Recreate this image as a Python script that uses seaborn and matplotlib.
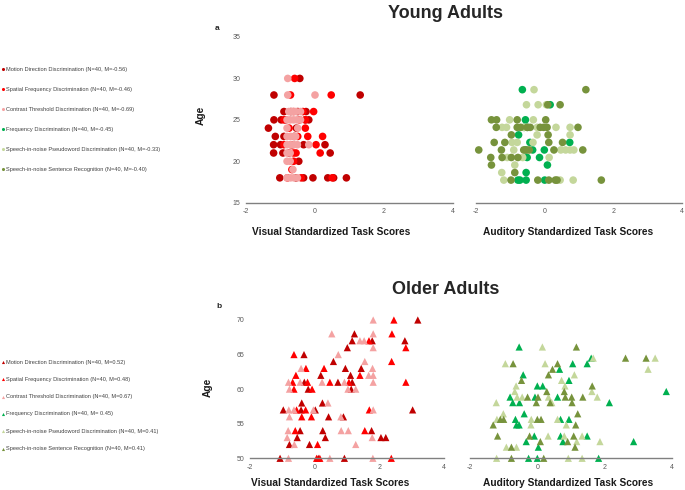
import matplotlib
matplotlib.use("Agg")
import matplotlib.pyplot as plt
import seaborn as sns
import pandas as pd

# ---- data ----
tasks_visual = ["Motion Direction Discrimination", "Spatial Frequency Discrimination",
                "Contrast Threshold Discrimination"]
tasks_auditory = ["Frequency Discrimination", "Speech-in-noise Pseudoword Discrimination",
                  "Speech-in-noise Sentence Recognition"]
young_means = ["-0.56", "-0.46", "-0.69", "-0.45", "-0.33", "-0.40"]
older_means = ["0.52", "0.48", "0.67", " 0.45", "0.41", "0.41"]

# young adults, visual
young_motion_x = [-0.44, -1.19, 1.31, -0.90, -0.26, -1.19, -0.98, -0.28, -0.18, -1.35, -0.54, -1.15,
                  -1.20, -1.00, -0.33, 0.29, -1.20, -0.93, 0.44, -0.47, -1.02, -0.33, -0.06, 0.37,
                  0.54, 0.91, -0.60, -0.70, -0.75, -0.55, -0.65, -0.85, -0.50, -0.90]
young_motion_age = [30, 28, 28, 26, 26, 25, 25, 25, 25, 24, 24, 23, 22, 22, 22, 22, 21, 21, 21, 20,
                    18, 18, 18, 18, 18, 18, 23, 26, 21, 18, 22, 25, 26, 23]
young_spatial_x = [-0.59, -0.71, 0.47, -0.62, -0.04, -0.35, -0.90, -0.28, -0.28, -0.21, 0.22, -0.90,
                   0.03, -0.70, -0.62, -0.55, 0.15, -0.62, -0.67, -0.40, 0.50, -0.75, -0.50, -0.45, -0.80]
young_spatial_age = [30, 28, 28, 26, 26, 26, 25, 25, 24, 23, 23, 22, 22, 22, 21, 21, 21, 20, 19, 18,
                     18, 24, 23, 25, 18]
young_contrast_x = [-0.79, -0.79, 0.00, -0.76, -0.66, -0.56, -0.42, -0.81, -0.72, -0.62, -0.52, -0.42,
                    -0.81, -0.50, -0.81, -0.71, -0.61, -0.81, -0.71, -0.61, -0.51, -0.18, -0.81, -0.72,
                    -0.81, -0.72, -0.64, -0.81, -0.71, -0.61, -0.51, -0.56]
young_contrast_age = [30, 28, 28, 26, 26, 26, 26, 25, 25, 25, 25, 25, 24, 24, 23, 23, 23, 22, 22, 22,
                      22, 22, 21, 21, 20, 20, 19, 18, 18, 18, 18, 23]

# young adults, auditory
young_freq_x = [-0.65, 0.16, -0.56, -0.60, -0.76, -0.43, 0.73, -0.35, -0.01, -0.51, -0.15, 0.08,
                -0.54, -0.78, -0.72, -0.54, 0.00, -0.50, -0.56]
young_freq_age = [30, 28, 26, 25, 24, 23, 23, 22, 22, 21, 21, 20, 19, 18, 18, 18, 18, 25, 22]
young_pseudo_x = [-0.31, -0.53, -0.19, 0.05, -1.02, -0.33, -1.24, -1.11, -0.22, 0.33, 0.74, -0.22,
                  0.74, -0.95, -0.80, -0.34, 0.47, 0.61, 0.74, 0.85, -1.09, -0.64, 0.13, -0.87,
                  -1.25, -1.19, 0.45, 0.83, -0.90, -0.60]
young_pseudo_age = [30, 28, 28, 28, 26, 26, 25, 25, 25, 25, 25, 24, 24, 23, 23, 23, 22, 22, 22, 22,
                    21, 21, 21, 20, 19, 18, 18, 18, 22, 25]
young_sentence_x = [1.20, 0.09, 0.45, -1.55, -1.40, -0.80, 0.03, -1.41, -0.80, -0.70, -0.51, -0.42,
                    -0.13, -0.03, 0.07, 0.97, -0.97, 0.10, -1.47, -1.16, 0.12, 0.52, -1.92, -1.26,
                    -0.61, -0.53, -0.45, 0.27, 1.11, -1.57, -1.24, -0.97, -0.78, -1.55, -0.87, -0.98,
                    -0.20, 0.12, 0.31, 0.36, 1.65]
young_sentence_age = [30, 28, 28, 26, 26, 26, 26, 25, 25, 25, 25, 25, 25, 25, 25, 25, 24, 24, 23, 23,
                      23, 23, 22, 22, 22, 22, 22, 22, 22, 21, 21, 21, 21, 20, 19, 18, 18, 18, 18, 18, 18]

# older adults, visual
older_motion_x = [3.19, 1.23, 1.16, 1.78, 2.79, 1.01, -0.33, 0.58, 0.95, 1.44, 0.19, 1.11, -0.32, 0.72,
                  1.16, -0.20, 1.13, -0.40, 0.24, -0.97, -0.42, 0.02, 3.03, 0.43, 0.89, -0.45, 0.25,
                  1.76, -0.54, 0.33, 2.05, 2.20, -0.78, -0.16, -1.07, 0.11, 0.92]
older_motion_age = [70, 68, 67, 67, 67, 66, 65, 64, 63, 63, 62, 62, 61, 61, 61, 60, 60, 58, 58, 57,
                    57, 57, 57, 56, 56, 54, 54, 54, 53, 53, 53, 53, 52, 52, 50, 50, 50]
older_spatial_x = [2.45, 2.39, 1.68, 2.82, -0.64, 2.38, -0.27, 0.29, -0.58, 1.40, -0.68, -0.22, 0.47,
                   1.06, 2.82, -0.64, -0.08, -0.56, -0.28, 1.69, -0.40, -0.10, -0.60, 1.55, 0.09,
                   0.06, 0.16, 2.37]
older_spatial_age = [70, 68, 67, 66, 65, 64, 63, 63, 62, 62, 61, 61, 61, 61, 61, 60, 60, 57, 57, 57,
                     56, 56, 54, 54, 52, 50, 50, 50]
older_contrast_x = [1.81, 0.53, 1.81, 1.40, 1.53, 1.81, 0.73, 1.55, -0.42, 1.79, 1.67, 1.81, -0.81,
                    -0.45, 0.23, 0.92, 1.81, -0.78, 1.03, 1.27, 0.41, -0.80, -0.64, -0.04, 1.81, -0.78,
                    0.81, -0.82, 0.82, 1.04, -0.85, 1.78, -0.63, 1.27, -0.81, 0.47, 1.80]
older_contrast_age = [70, 68, 68, 67, 67, 66, 65, 64, 63, 63, 62, 62, 61, 61, 61, 61, 61, 60, 60, 60,
                      58, 57, 57, 57, 57, 56, 56, 54, 54, 54, 53, 53, 52, 52, 50, 50, 50]

# older adults, auditory
older_freq_x = [-0.54, 1.60, 1.05, 1.48, 0.66, -0.42, 0.94, 0.00, 0.16, 3.83, -0.81, -0.07, 0.60, -0.73,
                -0.53, 2.14, -0.39, -0.65, 0.69, 0.94, -0.62, -0.54, -0.09, 0.69, 1.48, -0.33, 0.76,
                2.86, 0.03, -0.26, 0.00, 1.82]
older_freq_age = [70, 68, 67, 67, 66, 65, 64, 63, 63, 62, 61, 61, 61, 60, 60, 60, 58, 57, 57, 57,
                  56, 56, 54, 54, 54, 53, 53, 53, 52, 50, 50, 50]
older_pseudo_x = [0.15, 1.66, 3.50, -0.95, 0.23, 3.29, 1.10, 0.72, -0.63, 0.82, -0.67, 1.62, -0.60,
                  -0.45, 0.33, 1.78, -1.22, 0.43, -1.01, -1.20, -0.18, 0.60, -0.19, 0.86, 0.32, 0.80,
                  1.33, 1.17, 1.86, -0.92, -0.62, -1.21, 0.92, 1.33]
older_pseudo_age = [70, 68, 68, 67, 67, 66, 65, 64, 63, 63, 62, 62, 61, 61, 61, 61, 60, 60, 58, 57,
                    57, 57, 56, 56, 54, 54, 54, 53, 53, 52, 52, 50, 50, 50]
older_sentence_x = [1.16, 2.62, 3.23, -0.72, 0.60, 0.45, 0.33, -0.47, 1.63, 0.28, 0.80, -0.29, 0.02,
                    0.83, 1.02, 1.35, -0.03, 0.38, 1.03, 1.20, -1.10, -1.00, 0.00, 0.11, -1.31, 1.14,
                    -1.18, -0.23, 1.08, 0.09, 0.90, -0.77, 1.12, -0.77, 0.19]
older_sentence_age = [70, 68, 68, 67, 67, 66, 65, 64, 63, 62, 62, 61, 61, 61, 61, 61, 60, 60, 60, 58,
                      57, 57, 57, 57, 56, 56, 54, 54, 54, 53, 53, 52, 52, 50, 50]

colors_visual = ["#C00000", "#FF0000", "#F4A2A2"]
colors_auditory = ["#00B050", "#C4D79B", "#77933C"]


def make_df(tasks, xs, ages):
    rows = []
    for t, x, a in zip(tasks, xs, ages):
        rows.append(pd.DataFrame({"score": x, "age": a, "task": t}))
    return pd.concat(rows, ignore_index=True)


young_vis = make_df(tasks_visual, [young_motion_x, young_spatial_x, young_contrast_x],
                    [young_motion_age, young_spatial_age, young_contrast_age])
young_aud = make_df(tasks_auditory, [young_freq_x, young_pseudo_x, young_sentence_x],
                    [young_freq_age, young_pseudo_age, young_sentence_age])
older_vis = make_df(tasks_visual, [older_motion_x, older_spatial_x, older_contrast_x],
                    [older_motion_age, older_spatial_age, older_contrast_age])
older_aud = make_df(tasks_auditory, [older_freq_x, older_pseudo_x, older_sentence_x],
                    [older_freq_age, older_pseudo_age, older_sentence_age])

sns.set_style("white")
plt.rcParams["font.family"] = ["Liberation Sans", "DejaVu Sans"]
plt.rcParams["axes.unicode_minus"] = False

W, H = 685, 490
fig = plt.figure(figsize=(W / 100, H / 100), dpi=100)


def px_axes(left, right, bottom, top):
    return fig.add_axes([left / W, 1 - bottom / H, (right - left) / W, (bottom - top) / H])


def panel(ax, df, tasks, colors, marker, size, ylim, yticks, show_y):
    sns.scatterplot(data=df, x="score", y="age", hue="task", hue_order=tasks, palette=colors,
                    marker=marker, s=size, linewidth=0, legend=False, ax=ax, clip_on=False, alpha=1)
    ax.set_xlim(-2, 4)
    ax.set_ylim(*ylim)
    ax.set_xticks([-2, 0, 2, 4])
    ax.set_yticks(yticks if show_y else [])
    ax.tick_params(length=0, labelsize=5, labelcolor="#595959", pad=4)
    ax.set_xlabel("")
    ax.set_ylabel("")
    for s in ["top", "right", "left"]:
        ax.spines[s].set_visible(False)
    ax.spines["bottom"].set_color("#808080")
    ax.spines["bottom"].set_linewidth(1.0)
    ax.patch.set_alpha(0)


ax1 = px_axes(246, 453, 202.7, 37)
panel(ax1, young_vis, tasks_visual, colors_visual, "o", 30, (15, 35), [15, 20, 25, 30, 35], True)
ax2 = px_axes(476, 682, 202.7, 52)
panel(ax2, young_aud, tasks_auditory, colors_auditory, "o", 30, (15, 35), [], False)
ax3 = px_axes(250, 444, 458.3, 320)
panel(ax3, older_vis, tasks_visual, colors_visual, "^", 27, (50, 70), [50, 55, 60, 65, 70], True)
ax4 = px_axes(470, 672, 458.3, 347)
panel(ax4, older_aud, tasks_auditory, colors_auditory, "^", 27, (50, 70), [], False)

# overlay for titles, labels and the legends (pixel coordinates)
ov = fig.add_axes([0, 0, 1, 1])
ov.set_xlim(0, W)
ov.set_ylim(H, 0)
ov.axis("off")

ov.text(446, 13, "Young Adults", fontsize=13, fontweight="bold", ha="center", va="center")
ov.text(446, 289, "Older Adults", fontsize=13, fontweight="bold", ha="center", va="center")
ov.text(217, 29, "a", fontsize=6, fontweight="bold", ha="center", va="center", color="#262626")
ov.text(219, 306, "b", fontsize=6, fontweight="bold", ha="center", va="center", color="#262626")
for xl, yl, lab in [(331, 232, "Visual Standardized Task Scores"),
                    (568, 232, "Auditory Standardized Task Scores"),
                    (330, 483, "Visual Standardized Task Scores"),
                    (568, 483, "Auditory Standardized Task Scores")]:
    ov.text(xl, yl, lab, fontsize=7.3, fontweight="bold", ha="center", va="center", color="#1a1a1a")
ov.text(201, 115, "Age", fontsize=7.3, fontweight="bold", ha="center", va="center", rotation=90,
        color="#1a1a1a")
ov.text(208, 387, "Age", fontsize=7.3, fontweight="bold", ha="center", va="center", rotation=90,
        color="#1a1a1a")

all_tasks = tasks_visual + tasks_auditory
all_colors = colors_visual + colors_auditory
for i, (t, c) in enumerate(zip(all_tasks, all_colors)):
    y = 69 + i * 20
    ov.scatter([3], [y], marker="o", s=5, color=c, linewidth=0)
    ov.text(6.5, y, f"{t} (N=40, M={young_means[i]})", fontsize=4.1, ha="left", va="center",
            color="#404040")
    y = 362 + i * 17.3
    ov.scatter([3], [y], marker="^", s=5, color=c, linewidth=0)
    ov.text(6.5, y, f"{t} (N=40, M={older_means[i]})", fontsize=4.1, ha="left", va="center",
            color="#404040")

fig.savefig("out.png", dpi=100)
